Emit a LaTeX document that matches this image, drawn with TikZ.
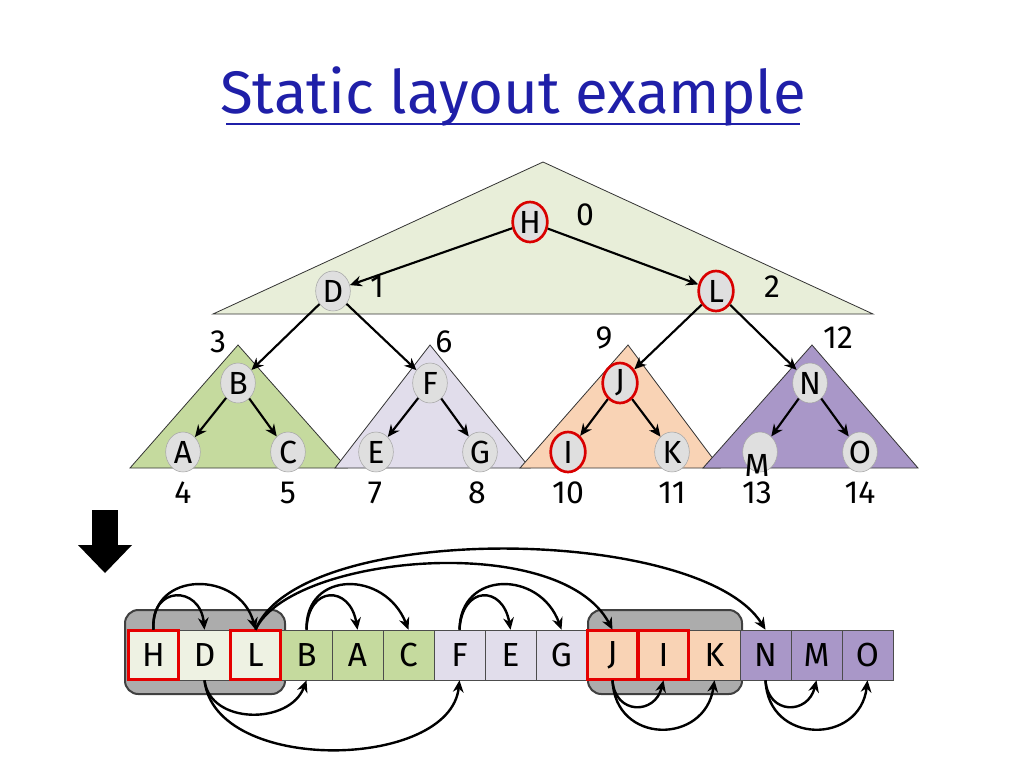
\documentclass[tikz,border=0pt]{standalone}
\usepackage{fontspec}
\setmainfont{Fira Sans}
\usetikzlibrary{arrows.meta,shapes.geometric,calc}
\definecolor{topc}{HTML}{E8EED9}
\definecolor{grn}{HTML}{C5DA9E}
\definecolor{lav}{HTML}{E1DDEB}
\definecolor{ora}{HTML}{F9D3B5}
\definecolor{pur}{HTML}{A997C8}
\definecolor{cellw}{HTML}{EEF2E3}
\definecolor{ttl}{HTML}{1F1FA8}
\tikzset{
 tn/.style={ellipse,draw=gray!70,fill=gray!25,minimum width=26pt,minimum height=30pt,inner sep=0pt,font=\fontsize{24}{24}\selectfont},
 tnr/.style={tn,draw=red!85!black,line width=2pt},
 ed/.style={-{Stealth[length=9pt,width=8pt]},line width=1.6pt},
 num/.style={font=\fontsize{24}{24}\selectfont},
 cell/.style={draw=gray!60!black,minimum width=38.25pt,minimum height=37.5pt,inner sep=0pt,font=\fontsize{25}{25}\selectfont},
 tri/.style={draw=black!80,line width=0.6pt},
 arc/.style={-{Stealth[length=9pt,width=8pt]},line width=1.8pt},
 rb/.style={draw=red!90!black,line width=2.2pt},
 gb/.style={draw=gray!50!black,fill=gray!65,line width=1.5pt,rounded corners=10pt}
}
\begin{document}
\begin{tikzpicture}[x=0.75pt,y=-0.75pt]
\useasboundingbox (0,0) rectangle (1024,768);
% title
\node[text=ttl,font=\fontsize{45}{45}\selectfont] (title) at (513,96) {Static layout example};
\draw[ttl,line width=1.8pt] (226,124) -- (800,124);
% triangles
\draw[tri,fill=topc] (543,162) -- (873,314) -- (213,314) -- cycle;
\draw[tri,fill=grn] (238,345) -- (347,468) -- (130,468) -- cycle;
\draw[tri,fill=lav] (430,345) -- (530,468) -- (335,468) -- cycle;
\draw[tri,fill=ora] (628,345) -- (720,468) -- (520,468) -- cycle;
\draw[tri,fill=pur] (812,345) -- (918,468) -- (703,468) -- cycle;
% nodes
\node[tnr] (H) at (530,222) {H};
\node[tn] (D) at (333,291) {D};
\node[tnr] (L) at (716,291) {L};
\node[tn] (B) at (238,383) {B};
\node[tn] (F) at (430,383) {F};
\node[tnr] (J) at (620,383) {J};
\node[tn] (N) at (810,383) {N};
\node[tn] (A) at (183,452) {A};
\node[tn] (C) at (288,452) {C};
\node[tn] (E) at (376,452) {E};
\node[tn] (G) at (480,452) {G};
\node[tnr] (I) at (568,452) {I};
\node[tn] (K) at (672,452) {K};
\node[tn] (M) at (760,452) {};
\node[font=\fontsize{24}{24}\selectfont] (Ml) at (757,465) {M};
\node[tn] (O) at (860,452) {O};
\foreach \a/\b in {H/D,H/L,D/B,D/F,L/J,L/N,B/A,B/C,F/E,F/G,J/I,J/K,N/M,N/O}
  \draw[ed] (\a) -- (\b);
% numbers
\foreach \t/\x/\y in {0/585/215,1/377/287,2/772/287,3/218/342,6/444/342,9/604/338,12/838/338,
 4/183/493,5/288/493,7/375/493,8/477/493,10/568/493,11/672/493,13/757/493,14/860/493}
  \node[num] (n\t) at (\x,\y) {\t};
% down arrow
\fill (92,510) rectangle (118,545);
\fill (78,545) -- (132,545) -- (105,573) -- cycle;
% gray boxes
\draw[gb] (125,610) rectangle (285,694);
\draw[gb] (588,610) rectangle (742,694);
% cells
\foreach \l/\c [count=\i from 0] in {H/cellw,D/cellw,L/cellw,B/grn,A/grn,C/grn,F/lav,E/lav,G/lav,J/ora,I/ora,K/ora,N/pur,M/pur,O/pur}
  \node[cell,fill=\c] (c\l) at ({153.5+51*\i},655) {\l};
\foreach \l in {H,L,J,I}
  \draw[rb] ($(c\l.south west)+(1,-1)$) rectangle ($(c\l.north east)+(-1,1)$);
% arcs above
\draw[arc] (cH.north) .. controls (150,585) and (200,585) .. (cD.north);
\draw[arc] (cH.north) .. controls (150,570) and (240,570) .. (cL.north);
\draw[arc] (cB.north) .. controls (308,585) and (350,585) .. (cA.north);
\draw[arc] (cB.north) .. controls (305,570) and (385,570) .. (cC.north);
\draw[arc] (cF.north) .. controls (462,585) and (503,585) .. (cE.north);
\draw[arc] (cF.north) .. controls (460,570) and (540,570) .. (cG.north);
\draw[arc] (cL.north) .. controls (290,555) and (560,530) .. (cJ.north);
\draw[arc] (cL.north) .. controls (300,520) and (700,525) .. (cN.north);
% arcs below
\draw[arc] (cD.south) .. controls (210,725) and (290,725) .. (cB.south);
\draw[arc] (cD.south) .. controls (215,775) and (450,770) .. (cF.south);
\draw[arc] (cJ.south) .. controls (615,715) and (655,715) .. (cI.south);
\draw[arc] (cJ.south) .. controls (615,745) and (705,745) .. (cK.south);
\draw[arc] (cN.south) .. controls (768,715) and (808,715) .. (cM.south);
\draw[arc] (cN.south) .. controls (768,745) and (860,745) .. (cO.south);
\end{tikzpicture}
\end{document}
